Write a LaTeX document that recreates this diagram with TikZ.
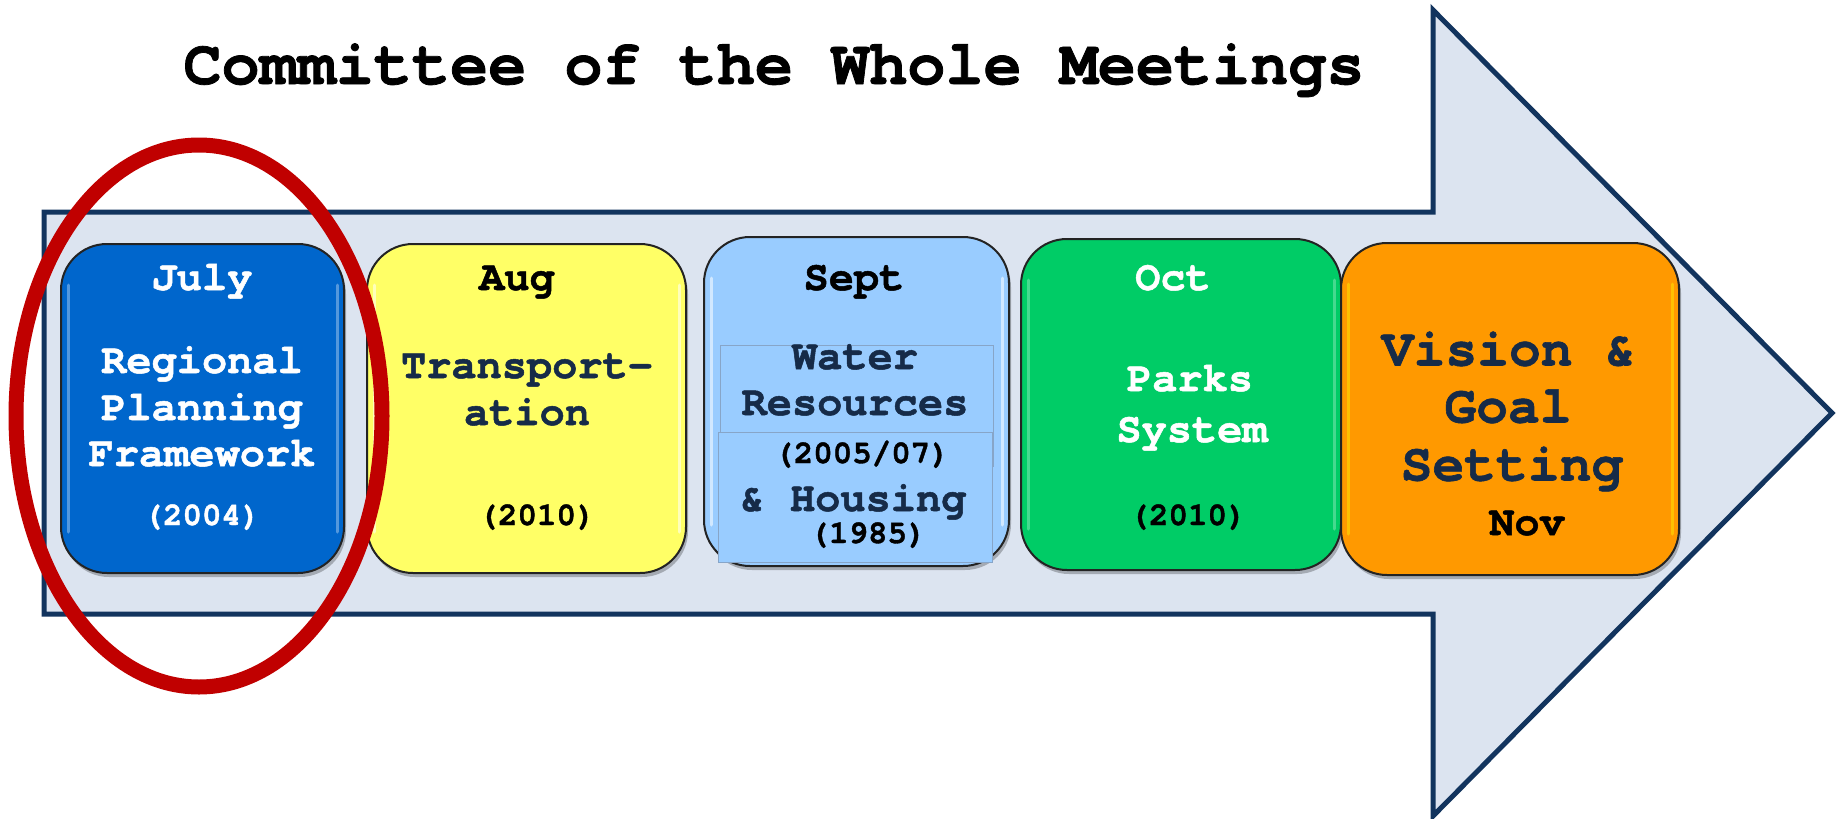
\documentclass[tikz,border=0pt]{standalone}
\usepackage{fontspec}
\setmainfont{TeX Gyre Cursor}[BoldFeatures={FakeBold=1.2}]
\usetikzlibrary{shadows,shapes.geometric}
\newcommand\myfs[1]{\fontsize{#1}{#1}\selectfont}
\definecolor{arrowline}{RGB}{18,52,94}
\definecolor{arrowfill}{RGB}{220,228,240}
\definecolor{txtnavy}{RGB}{22,43,72}
\definecolor{julyblue}{RGB}{0,102,204}
\definecolor{augyellow}{RGB}{255,255,102}
\definecolor{septblue}{RGB}{153,204,255}
\definecolor{octgreen}{RGB}{0,204,102}
\definecolor{novorange}{RGB}{255,153,0}
\definecolor{ringred}{RGB}{192,0,0}
\definecolor{boxedge}{RGB}{35,35,35}
\definecolor{septedge}{RGB}{135,165,200}
\begin{document}
\begin{tikzpicture}[x=1pt,y=-1pt,
  monthbox/.style={draw=boxedge, line width=2pt, rounded corners=46pt, inner sep=0,
    drop shadow={shadow xshift=2pt, shadow yshift=-4pt, opacity=0.25, fill=black}},
  septrect/.style={draw=septedge, line width=1pt, fill=septblue},
  gloss/.style={line width=3pt, line cap=round, opacity=0.55},
  tfive/.style={inner sep=0, font=\bfseries\myfs{42}, text height=26pt, text depth=8pt},
  tyear/.style={inner sep=0, font=\bfseries\myfs{32.5}, text height=20pt, text depth=6pt},
  tnov/.style={inner sep=0, font=\bfseries\myfs{53}, text height=33pt, text depth=10pt},
  ttitle/.style={inner sep=0, font=\bfseries\myfs{63.5}, text height=40pt, text depth=12pt}]
\useasboundingbox (0,0) rectangle (1839,819);
\fill[white] (0,0) rectangle (1839,819);
% big arrow
\draw[arrowline, fill=arrowfill, line width=5pt, line join=miter]
  (44,212) -- (1433,212) -- (1433,10) -- (1832,413) -- (1433,816) -- (1433,614) -- (44,614) -- cycle;
% title
\node[ttitle] (title) at (774,70) {Committee of the Whole Meetings};
% boxes
\node[monthbox, fill=julyblue, minimum width=283pt, minimum height=329pt] (july) at (202.5,408.5) {};
\node[monthbox, fill=augyellow, minimum width=319pt, minimum height=329pt] (aug) at (526.5,408.5) {};
\node[monthbox, fill=septblue, minimum width=305pt, minimum height=329pt] (sept) at (856.5,401.5) {};
\node[monthbox, fill=octgreen, minimum width=320pt, minimum height=331pt] (oct) at (1181,404.5) {};
\node[monthbox, fill=novorange, minimum width=338pt, minimum height=332pt] (nov) at (1510,409) {};
% glossy edge highlights
\draw[gloss, white!60!julyblue] ([xshift=8pt,yshift=-42pt]july.north west) -- ([xshift=8pt,yshift=42pt]july.south west);
\draw[gloss, white!60!julyblue] ([xshift=-8pt,yshift=-42pt]july.north east) -- ([xshift=-8pt,yshift=42pt]july.south east);
\draw[gloss, white] ([xshift=8pt,yshift=-42pt]aug.north west) -- ([xshift=8pt,yshift=42pt]aug.south west);
\draw[gloss, white] ([xshift=-8pt,yshift=-42pt]aug.north east) -- ([xshift=-8pt,yshift=42pt]aug.south east);
\draw[gloss, white] ([xshift=8pt,yshift=-42pt]sept.north west) -- ([xshift=8pt,yshift=42pt]sept.south west);
\draw[gloss, white] ([xshift=-8pt,yshift=-42pt]sept.north east) -- ([xshift=-8pt,yshift=42pt]sept.south east);
\draw[gloss, white!50!octgreen] ([xshift=8pt,yshift=-42pt]oct.north west) -- ([xshift=8pt,yshift=42pt]oct.south west);
\draw[gloss, white!50!octgreen] ([xshift=-8pt,yshift=-42pt]oct.north east) -- ([xshift=-8pt,yshift=42pt]oct.south east);
\draw[gloss, yellow!80!novorange] ([xshift=8pt,yshift=-42pt]nov.north west) -- ([xshift=8pt,yshift=42pt]nov.south west);
\draw[gloss, yellow!80!novorange] ([xshift=-8pt,yshift=-42pt]nov.north east) -- ([xshift=-8pt,yshift=42pt]nov.south east);
% sept inner rectangles
\draw[septrect] (720,345) rectangle (993,466);
\draw[septrect] (718,432) rectangle (992,562);
% July texts
\node[tfive, white] (jul1) at (202,281) {July};
\node[tfive, white] (jul2) at (202,364) {Regional};
\node[tfive, white] (jul3) at (202,411) {Planning};
\node[tfive, white] (jul4) at (202,457) {Framework};
\node[tyear, white] (jul5) at (202,518) {(2004)};
% Aug texts
\node[tfive, black] (aug1) at (517,281) {Aug};
\node[tfive, txtnavy] (aug2) at (527,369) {Transport-};
\node[tfive, txtnavy] (aug3) at (527,416) {ation};
\node[tyear, black] (aug4) at (537,518) {(2010)};
% Sept texts
\node[tfive, black] (sep1) at (854,281) {Sept};
\node[tfive, txtnavy] (sep2) at (855,360) {Water};
\node[tfive, txtnavy] (sep3) at (855,406) {Resources};
\node[tyear, black] (sep4) at (862,456) {(2005/07)};
\node[tfive, txtnavy] (sep5) at (853,502) {\& Housing};
\node[tyear, black] (sep6) at (868,536) {(1985)};
% Oct texts
\node[tfive, white] (oct1) at (1173,281) {Oct};
\node[tfive, white] (oct2) at (1190,382) {Parks};
\node[tfive, white] (oct3) at (1192,433) {System};
\node[tyear, black] (oct4) at (1188,518) {(2010)};
% Nov texts
\node[tnov, txtnavy] (nov1) at (1509,354) {Vision \&};
\node[tnov, txtnavy] (nov2) at (1508,411) {Goal};
\node[tnov, txtnavy] (nov3) at (1512,469) {Setting};
\node[tfive, black] (nov4) at (1527,526) {Nov};
% red ring
\node[draw=ringred, line width=15pt, ellipse, minimum width=366pt, minimum height=542pt, inner sep=0] (ring) at (199,416) {};
\end{tikzpicture}
\end{document}
